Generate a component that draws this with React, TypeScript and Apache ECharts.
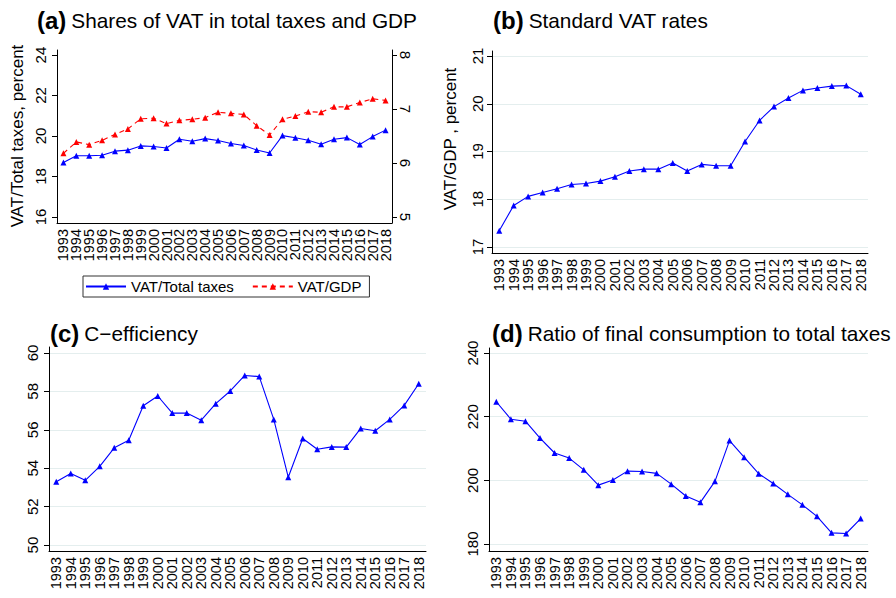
import React, { useEffect, useRef } from "react";
import * as echarts from "echarts";

const years = [
  "1993", "1994", "1995", "1996", "1997", "1998", "1999", "2000", "2001",
  "2002", "2003", "2004", "2005", "2006", "2007", "2008", "2009", "2010",
  "2011", "2012", "2013", "2014", "2015", "2016", "2017", "2018",
];

// (a) shares of VAT
const vatTotalTaxes = [
  18.69, 19.02, 19.02, 19.05, 19.25, 19.3, 19.51, 19.48, 19.41, 19.84, 19.74,
  19.87, 19.78, 19.63, 19.53, 19.31, 19.16, 20.02, 19.91, 19.79, 19.59, 19.84,
  19.92, 19.58, 19.97, 20.29,
];
const vatGdp = [
  6.18, 6.39, 6.34, 6.42, 6.53, 6.63, 6.82, 6.83, 6.73, 6.79, 6.81, 6.84, 6.94,
  6.92, 6.9, 6.69, 6.52, 6.81, 6.87, 6.95, 6.94, 7.04, 7.04, 7.12, 7.19, 7.16,
];
// (b) standard VAT rates
const standardVatRates = [
  17.34, 17.87, 18.06, 18.14, 18.22, 18.31, 18.33, 18.38, 18.47, 18.59, 18.63,
  18.63, 18.76, 18.59, 18.73, 18.7, 18.7, 19.21, 19.65, 19.94, 20.12, 20.28,
  20.33, 20.37, 20.38, 20.2,
];
// (c) C-efficiency
const cEfficiency = [
  53.3, 53.72, 53.37, 54.1, 55.06, 55.46, 57.25, 57.76, 56.87, 56.87, 56.5,
  57.36, 58.02, 58.83, 58.77, 56.54, 53.53, 55.55, 54.99, 55.11, 55.1, 56.07,
  55.95, 56.54, 57.27, 58.4,
];
// (d) ratio of final consumption to total taxes
const consumptionToTaxes = [
  224.7, 219.2, 218.6, 213.3, 208.6, 207.0, 203.3, 198.5, 200.1, 202.9, 202.8,
  202.2, 198.8, 195.1, 193.1, 199.7, 212.5, 207.3, 202.1, 199.0, 195.6, 192.3,
  188.7, 183.5, 183.3, 188.0,
];

const ticksALeft = [16, 18, 20, 22, 24];
const ticksARight = [5, 6, 7, 8];
const ticksB = [17, 18, 19, 20, 21];
const ticksC = [50, 52, 54, 56, 58, 60];
const ticksD = [180, 200, 220, 240];

const FONT = "Liberation Sans, Arial, Helvetica, sans-serif";
const GRID_COLOR = "#e4eeee";

function yearAxis(gridIndex: number) {
  return {
    type: "category",
    gridIndex,
    data: years,
    boundaryGap: true,
    axisLine: { onZero: false, lineStyle: { color: "#000", width: 1 } },
    axisTick: { alignWithLabel: true, length: 5, lineStyle: { color: "#000" } },
    axisLabel: {
      rotate: 90,
      interval: 0,
      fontSize: 14.5,
      fontFamily: FONT,
      color: "#000",
      margin: 6,
    },
    splitLine: { show: false },
  };
}

function valueAxis(
  gridIndex: number,
  min: number,
  max: number,
  ticks: number[],
  opts: { position?: string; rotate?: number; margin?: number; grid?: boolean }
) {
  return {
    type: "value",
    gridIndex,
    position: opts.position || "left",
    min,
    max,
    axisLine: { show: true, onZero: false, lineStyle: { color: "#000", width: 1 } },
    axisTick: { show: true, length: 5, customValues: ticks, lineStyle: { color: "#000" } },
    axisLabel: {
      customValues: ticks,
      rotate: opts.rotate ?? 90,
      fontSize: 15,
      fontFamily: FONT,
      color: "#000",
      margin: opts.margin ?? 9,
    },
    splitLine: { show: !!opts.grid, lineStyle: { color: GRID_COLOR, width: 1 } },
  };
}

function lineSeries(
  name: string,
  data: number[],
  xAxisIndex: number,
  yAxisIndex: number,
  color: string,
  dashed = false
) {
  return {
    type: "line",
    name,
    data,
    xAxisIndex,
    yAxisIndex,
    symbol: "triangle",
    symbolSize: 6,
    showSymbol: true,
    itemStyle: { color },
    lineStyle: { color, width: 1.1, type: dashed ? [5, 4] : "solid" },
    emphasis: { disabled: true },
  };
}

function titleOf(label: string, text: string, left: number, top: number) {
  return {
    text: `{b|${label}} {n|${text}}`,
    left,
    top,
    padding: 0,
    textStyle: {
      fontWeight: "normal",
      fontFamily: FONT,
      rich: {
        b: { fontSize: 24, fontWeight: "bold", fontFamily: FONT, color: "#000", lineHeight: 26 },
        n: { fontSize: 20.8, fontWeight: "normal", fontFamily: FONT, color: "#000", lineHeight: 26 },
      },
    },
  };
}

export default function App() {
  const ref = useRef<HTMLDivElement>(null);

  useEffect(() => {
    if (!ref.current) return;
    const chart = echarts.init(ref.current, null, { renderer: "svg" });
    chart.setOption({
      animation: false,
      backgroundColor: "#fff",
      title: [
        titleOf("(a)", "Shares of VAT in total taxes and GDP", 37, 7),
        titleOf("(b)", "Standard VAT rates", 493, 7),
        titleOf("(c)", "C\u2212efficiency", 50, 320),
        titleOf("(d)", "Ratio of final consumption to total taxes", 492, 320),
      ],
      grid: [
        { left: 57, right: 896 - 392, top: 50, height: 173 },
        { left: 492, right: 896 - 868, top: 51, height: 202 },
        { left: 49, right: 896 - 426, top: 347, height: 204 },
        { left: 489, right: 896 - 868, top: 348, height: 203 },
      ],
      xAxis: [yearAxis(0), yearAxis(1), yearAxis(2), yearAxis(3)],
      yAxis: [
        valueAxis(0, 15.7, 24.25, ticksALeft, { margin: 9 }),
        valueAxis(0, 4.889, 8.093, ticksARight, { position: "right", rotate: -90, margin: 6 }),
        valueAxis(1, 16.874, 21.105, ticksB, { margin: 7, grid: true }),
        valueAxis(2, 49.69, 60.31, ticksC, { margin: 9, grid: true }),
        valueAxis(3, 177.8, 241.6, ticksD, { margin: 9, grid: true }),
      ],
      legend: {
        left: 83,
        top: 276,
        orient: "horizontal",
        data: ["VAT/Total taxes", "VAT/GDP"],
        itemWidth: 40,
        itemHeight: 8,
        itemGap: 18,
        padding: [3, 8, 3, 2],
        borderColor: "#333",
        borderWidth: 1,
        borderRadius: 0,
        backgroundColor: "#fff",
        textStyle: { fontSize: 15, fontFamily: FONT, color: "#000" },
      },
      graphic: [
        {
          type: "text",
          x: 17,
          y: 136,
          rotation: Math.PI / 2,
          style: {
            text: "VAT/Total taxes, percent",
            fontSize: 17,
            fontFamily: FONT,
            fill: "#000",
            align: "center",
            verticalAlign: "middle",
          },
        },
        {
          type: "text",
          x: 450,
          y: 139,
          rotation: Math.PI / 2,
          style: {
            text: "VAT/GDP , percent",
            fontSize: 17,
            fontFamily: FONT,
            fill: "#000",
            align: "center",
            verticalAlign: "middle",
          },
        },
      ],
      series: [
        lineSeries("VAT/Total taxes", vatTotalTaxes, 0, 0, "#0000ff"),
        lineSeries("VAT/GDP", vatGdp, 0, 1, "#ff0000", true),
        lineSeries("Standard VAT rate", standardVatRates, 1, 2, "#0000ff"),
        lineSeries("C-efficiency", cEfficiency, 2, 3, "#0000ff"),
        lineSeries("Final consumption / total taxes", consumptionToTaxes, 3, 4, "#0000ff"),
      ],
    });
    return () => chart.dispose();
  }, []);

  return (
    <div
      ref={ref}
      style={{ position: "fixed", left: 0, top: 0, width: 896, height: 598, background: "#fff" }}
    />
  );
}
